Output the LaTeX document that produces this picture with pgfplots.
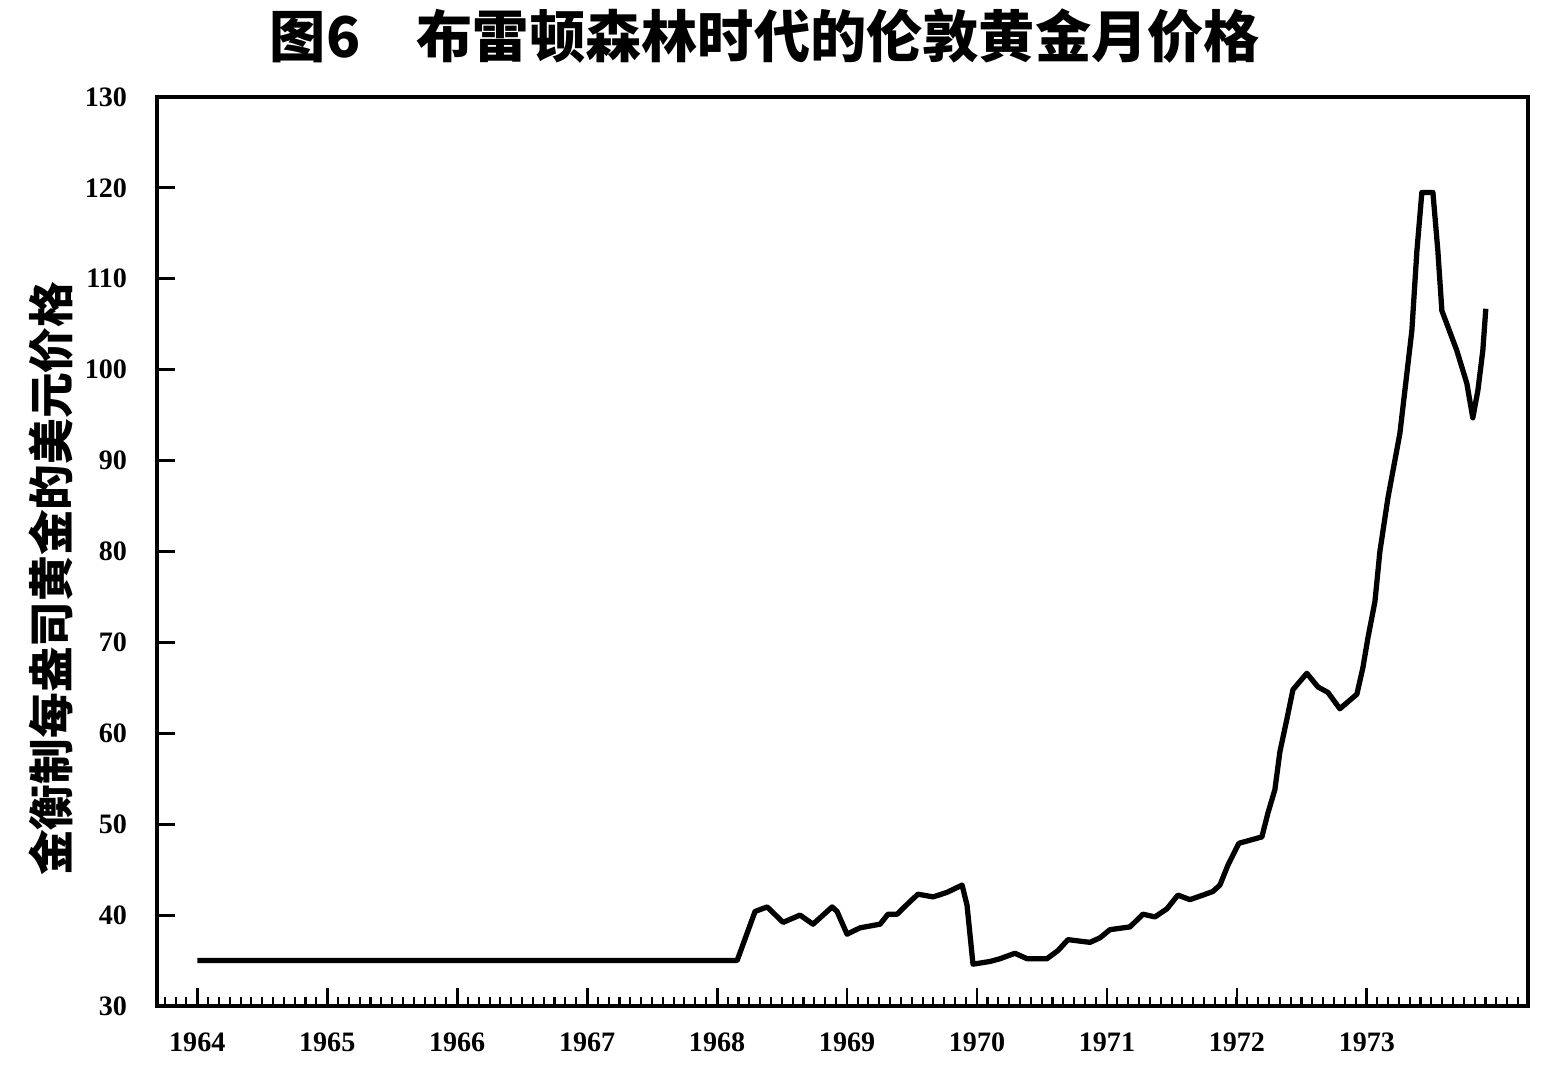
\documentclass[border=0pt]{standalone}
\usepackage{fontspec}
\setmainfont{Liberation Serif}
\newfontfamily\cjk{Noto Sans CJK SC}
\usepackage{pgfplots}
\pgfplotsset{compat=1.18}

% monthly London gold price
\pgfplotstableread{
x        y
1964.000 35.0
1968.154 35.0
1968.292 40.4
1968.385 40.9
1968.508 39.2
1968.638 40.0
1968.738 39.0
1968.885 40.9
1968.923 40.4
1969.000 37.9
1969.100 38.6
1969.254 39.0
1969.315 40.1
1969.385 40.1
1969.485 41.5
1969.546 42.3
1969.662 42.0
1969.769 42.5
1969.885 43.3
1969.923 41.1
1969.969 34.6
1970.100 34.9
1970.177 35.2
1970.292 35.8
1970.385 35.2
1970.538 35.2
1970.623 36.1
1970.700 37.3
1970.869 37.0
1970.946 37.5
1971.023 38.4
1971.177 38.7
1971.277 40.1
1971.369 39.8
1971.462 40.7
1971.546 42.2
1971.638 41.7
1971.738 42.2
1971.815 42.6
1971.869 43.3
1971.931 45.5
1972.015 47.9
1972.192 48.6
1972.238 51.2
1972.292 53.8
1972.331 58.0
1972.385 61.6
1972.431 64.8
1972.538 66.6
1972.623 65.1
1972.700 64.5
1972.792 62.7
1972.923 64.3
1972.969 67.2
1973.008 70.5
1973.062 74.5
1973.100 80.0
1973.162 85.9
1973.254 93.0
1973.346 104.3
1973.385 113.1
1973.423 119.5
1973.508 119.5
1973.546 113.1
1973.577 106.5
1973.692 102.1
1973.769 98.5
1973.815 94.7
1973.854 97.7
1973.892 102.1
1973.915 106.7
}\goldprice

\begin{document}
\begin{tikzpicture}
\useasboundingbox (0,0) rectangle (15.6cm,10.89cm);
\begin{axis}[
    at={(1.57cm,0.83cm)}, anchor=south west,
    scale only axis,
    width=13.71cm, height=9.09cm,
    xmin=1963.69, xmax=1974.24,
    ymin=30, ymax=130,
    xtick={1964,1965,...,1973},
    minor xtick={1963.75,1963.8333,...,1974.2},
    ytick={30,40,...,130},
    tick pos=left,
    tick align=inside,
    major tick length=5pt,
    minor tick length=2.5pt,
    axis line style={line width=1.2pt},
    major tick style={black, line width=0.8pt},
    minor tick style={black, line width=0.6pt},
    /pgf/number format/1000 sep={},
    /pgf/number format/assume math mode=true,
    ticklabel style={font=\fontsize{8}{8}\selectfont\bfseries},
    xticklabel style={anchor=north, text height=1.6ex, text depth=0pt, yshift=-2pt},
    yticklabel style={xshift=-5pt},
    ylabel={\cjk\bfseries 金衡制每盎司黄金的美元价格},
    ylabel style={font=\fontsize{13}{14}\selectfont, at={(axis description cs:-0.077,0.47)}, anchor=center},
    title={\cjk\bfseries 图6\quad 布雷顿森林时代的伦敦黄金月价格},
    title style={font=\fontsize{16}{18}\selectfont, at={(axis description cs:0.4435,1.044)}, anchor=center},
]
\addplot[black, line width=1.5pt, line join=round] table[x=x, y=y] {\goldprice};
\end{axis}
\end{tikzpicture}
\end{document}
